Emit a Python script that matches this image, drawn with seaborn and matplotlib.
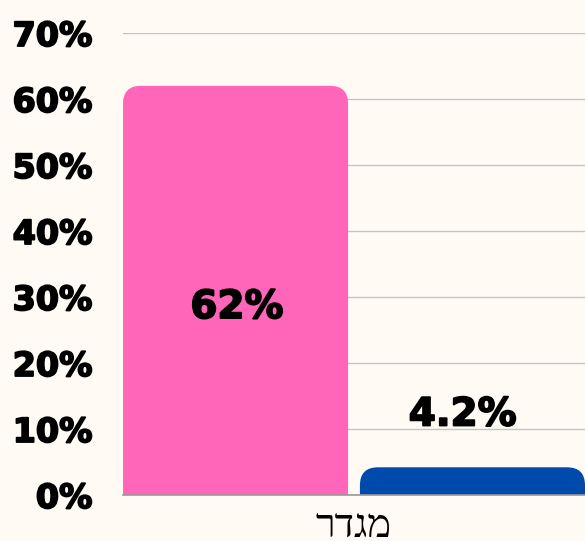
import numpy as np
import pandas as pd
import matplotlib.pyplot as plt
import matplotlib.patheffects as pe
import seaborn as sns
from matplotlib.patches import FancyBboxPatch

# -------------------------------
# Data
# -------------------------------
category = ["מגדר", "מגדר"]
groups = ["קבוצה א", "קבוצה ב"]
values = [62, 4.2]
value_labels = ["62%", "4.2%"]
y_ticks = [0, 10, 20, 30, 40, 50, 60, 70]

colors = ["#FF66BA", "#004AAD"]
bg = "#FFFAF4"

df = pd.DataFrame({"cat": category, "group": groups, "value": values})

# -------------------------------
# Plot
# -------------------------------
sns.set_style("white")
plt.rcParams["text.color"] = "black"
fig = plt.figure(figsize=(5.85, 5.41), dpi=100, facecolor=bg)
ax = fig.add_axes([0.2103, 0.085, 0.7897, 0.854])
ax.set_facecolor(bg)

sns.barplot(data=df, x="cat", y="value", hue="group", palette=colors,
            width=0.8, gap=0.05, legend=False, ax=ax, saturation=1)

ax.set_xlim(-0.39, 0.39)
ax.set_ylim(0, 70)

# rounded top corners
fig.canvas.draw()
p0, p1 = ax.transData.transform([[0, 0], [1, 1]])
px_x, px_y = p1 - p0
r_px = 18
r = r_px / px_x
asp = (r_px / px_y) / r
for p in list(ax.patches):
    x, w, h = p.get_x(), p.get_width(), p.get_height()
    fc = p.get_facecolor()
    p.remove()
    ax.add_patch(FancyBboxPatch((x, -10), w, h + 10,
                                boxstyle=f"round,pad=0,rounding_size={r}",
                                mutation_aspect=asp, fc=fc, ec="none", lw=0,
                                zorder=2))

# heavier look for the bold labels
thick = [pe.withStroke(linewidth=1.3, foreground="black")]

# value labels
bar_x = [-0.2, 0.2]
ax.annotate(value_labels[0], (bar_x[0], values[0] / 2), xytext=(1, -12),
            textcoords="offset points", ha="center", va="center", color="black",
            fontsize=28, fontweight="bold", family="DejaVu Sans", zorder=3,
            path_effects=thick)
ax.annotate(value_labels[1], (bar_x[1], values[1]), xytext=(-7, 38),
            textcoords="offset points", ha="center", va="center", color="black",
            fontsize=28, fontweight="bold", family="DejaVu Sans", zorder=3,
            path_effects=thick)

# axes styling
ax.set_yticks(y_ticks)
ax.set_yticklabels([f"{t}%" for t in y_ticks], fontsize=24, fontweight="bold",
                   family="DejaVu Sans", color="black")
for t in ax.get_yticklabels():
    t.set_path_effects(thick)
ax.tick_params(axis="y", length=0, pad=22)
ax.grid(axis="y", color="#C4C4C4", lw=1, zorder=0)
ax.set_axisbelow(True)

# hebrew label: matplotlib has no bidi, so reverse the characters for display
ax.set_xticks([0])
ax.set_xticklabels([category[0][::-1]], fontsize=29, color="black",
                   family=["Liberation Serif", "DejaVu Sans"])
ax.tick_params(axis="x", length=0, pad=10)
ax.set_xlabel("")
ax.set_ylabel("")

for s in ["top", "right", "left"]:
    ax.spines[s].set_visible(False)
ax.spines["bottom"].set_color("#999999")
ax.spines["bottom"].set_linewidth(1.2)

fig.savefig("out.png", dpi=100, facecolor=bg)
